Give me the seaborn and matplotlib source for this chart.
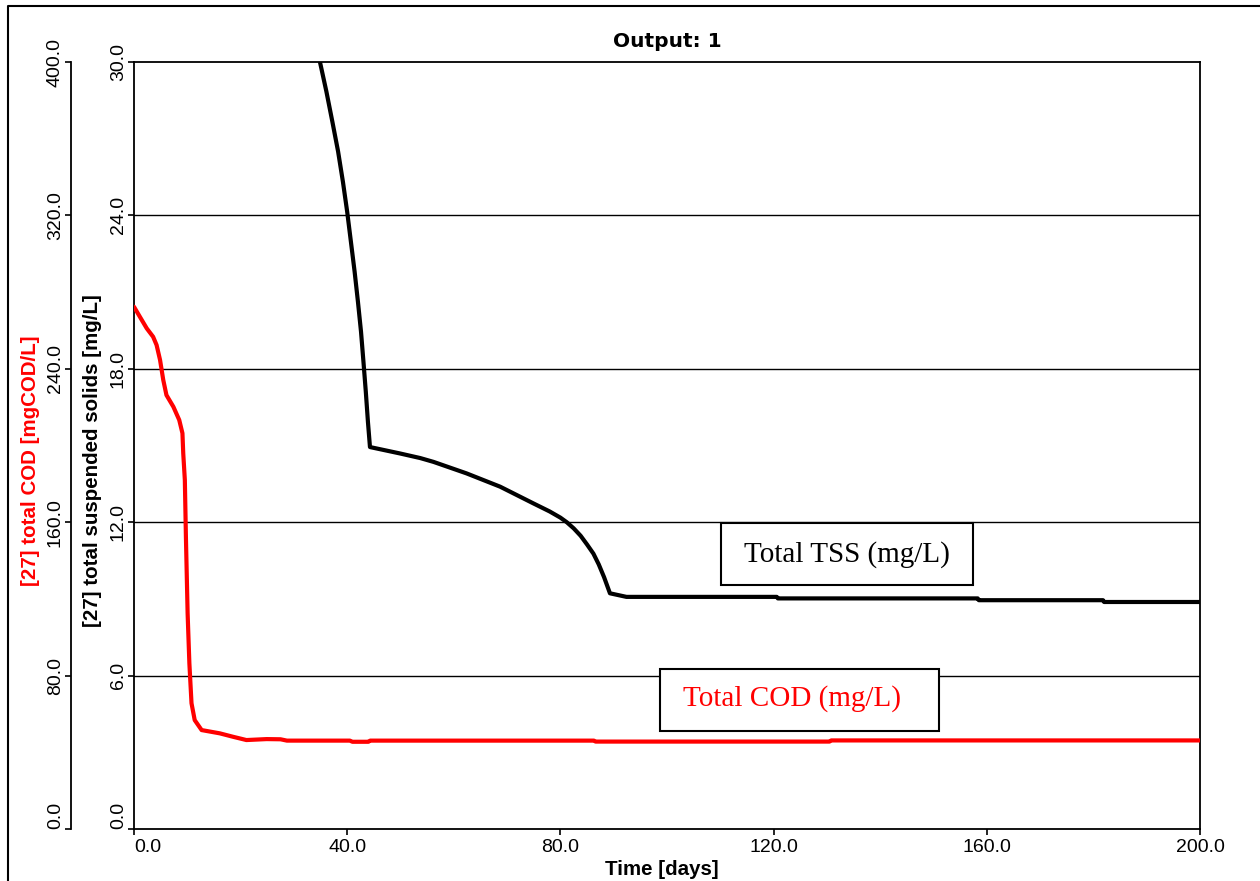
import matplotlib
matplotlib.use("Agg")
import matplotlib.pyplot as plt
import seaborn as sns
from matplotlib.lines import Line2D
from matplotlib.patches import Rectangle

# COD series (left outer axis, mgCOD/L)
cod_time = [0, 1.1, 2.4, 3.6, 4.25, 4.9, 5.5, 6.1, 7.4, 8.5, 9.1, 9.25, 9.55,
            9.75, 10.07, 10.4, 10.8, 11.4, 12.7, 16.1, 18.6, 21.1, 24.9, 27.5,
            28.7, 40.5, 41.0, 44.0, 44.3, 86.3, 86.6, 130.5, 130.8, 200]
cod_vals = [272.4, 267.2, 261.1, 256.7, 252.4, 244.6, 234.2, 226.3, 220.2,
            213.3, 206.4, 195.9, 182.0, 152.4, 112.5, 86.4, 65.6, 56.8, 51.6,
            49.9, 48.1, 46.4, 46.9, 46.8, 46.1, 46.1, 45.5, 45.5, 46.1, 46.1,
            45.6, 45.6, 46.2, 46.2]

# TSS series (inner axis, mg/L)
tss_time = [34.9, 36.1, 37.24, 38.3, 39.21, 40.0, 40.71, 41.4, 42.03, 42.6,
            43.06, 43.5, 43.90, 44.28, 49.9, 53.7, 56.2, 62.4, 68.7, 74.9,
            78.0, 80.0, 81.2, 82.5, 83.8, 85.0, 86.2, 87.2, 88.2, 89.3, 92.4,
            120.6, 120.8, 158.3, 158.5, 181.8, 182.0, 200]
tss_vals = [30.0, 28.85, 27.65, 26.5, 25.31, 24.15, 22.96, 21.8, 20.61, 19.45,
            18.27, 17.1, 15.92, 14.94, 14.69, 14.51, 14.36, 13.91, 13.39, 12.74,
            12.42, 12.18, 12.0, 11.76, 11.47, 11.13, 10.77, 10.35, 9.85, 9.22,
            9.08, 9.08, 9.02, 9.02, 8.95, 8.95, 8.88, 8.88]

x_ticks = [0, 40, 80, 120, 160, 200]
tss_ticks = [0, 6, 12, 18, 24, 30]
cod_ticks = [0, 80, 160, 240, 320, 400]

sns.set_style("white")
plt.rcParams["font.family"] = ["Liberation Sans", "DejaVu Sans"]
plt.rcParams["text.color"] = "black"
plt.rcParams["axes.labelcolor"] = "black"
plt.rcParams["xtick.color"] = "black"
plt.rcParams["ytick.color"] = "black"

label_font = dict(family=["Liberation Sans", "DejaVu Sans"],
                  weight="bold", size=14.8)

fig = plt.figure(figsize=(12.6, 8.81), dpi=100)
ax = fig.add_axes([0.1063, 0.0590, 0.8461, 0.8706])

# horizontal grid at TSS ticks
for v in tss_ticks[1:-1]:
    ax.axhline(v, color="black", lw=1.0, zorder=1)

sns.lineplot(x=tss_time, y=tss_vals, ax=ax, color="black", lw=3,
             estimator=None, sort=False, zorder=3)
ax.set_xlim(0, 200)
ax.set_ylim(0, 30)
ax.set_xticks(x_ticks)
ax.set_xticklabels([f"{v:.1f}" for v in x_ticks])
ax.set_yticks(tss_ticks)
ax.set_yticklabels([f"{v:.1f}" for v in tss_ticks])
ax.tick_params(axis="both", direction="out", length=4, width=1.2,
               labelsize=14, color="black", labelcolor="black",
               left=True, bottom=True)
ax.tick_params(axis="y", labelrotation=90, pad=1)
ax.tick_params(axis="x", pad=3)
for lab in ax.get_yticklabels():
    lab.set_va("center")
ax.get_yticklabels()[0].set_va("bottom")
ax.get_xticklabels()[0].set_ha("left")
for s in ax.spines.values():
    s.set_color("black")
    s.set_linewidth(1.3)

# outer COD axis on the left
ax2 = ax.twinx()
sns.lineplot(x=cod_time, y=cod_vals, ax=ax2, color="#ff0000", lw=3,
             estimator=None, sort=False, zorder=3)
ax2.set_ylim(0, 400)
ax2.yaxis.tick_left()
ax2.yaxis.set_label_position("left")
ax2.spines["left"].set_position(("axes", -0.0591))
ax2.spines["left"].set_visible(True)
ax2.spines["left"].set_color("black")
ax2.spines["left"].set_linewidth(1.3)
for side in ["right", "top", "bottom"]:
    ax2.spines[side].set_visible(False)
ax2.set_yticks(cod_ticks)
ax2.set_yticklabels([f"{v:.1f}" for v in cod_ticks])
ax2.tick_params(axis="y", direction="out", length=4, width=1.2, labelsize=14,
                labelrotation=90, pad=1, left=True, right=False,
                color="black", labelcolor="black")
for lab in ax2.get_yticklabels():
    lab.set_va("center")
ax2.get_yticklabels()[0].set_va("bottom")

# axis labels
ax.set_ylabel("[27] total suspended solids [mg/L]", color="black", **label_font)
ax.yaxis.set_label_coords(-0.0389, 0.48)
ax.yaxis.label.set_va("center")
ax2.set_ylabel("[27] total COD [mgCOD/L]", color="#ff0000", **label_font)
ax2.yaxis.set_label_coords(-0.0971, 0.48)
ax2.yaxis.label.set_va("center")
ax.set_xlabel("Time [days]", color="black", **label_font)
ax.xaxis.set_label_coords(0.495, -0.041)

ax.set_title("Output: 1", family="DejaVu Sans", weight="bold", size=14.5,
             pad=11, color="black")

# text boxes
box_specs = [
    ((0.5507, 0.318), 0.2363, 0.081, (0.669, 0.3585), "Total TSS (mg/L)", "black"),
    ((0.4934, 0.1278), 0.2618, 0.0808, (0.6173, 0.1695), "Total COD (mg/L)", "#ff0000"),
]
for (x0, y0), w, h, (tx, ty), txt, col in box_specs:
    ax.add_patch(Rectangle((x0, y0), w, h, transform=ax.transAxes,
                           facecolor="white", edgecolor="black", lw=1.5, zorder=4))
    ax.text(tx, ty, txt, transform=ax.transAxes, ha="center", va="center",
            family="Liberation Serif", size=21, color=col, zorder=5)

# outer frame
fig.add_artist(Line2D([0.00635, 0.00635, 1.0], [0.0, 0.9932, 0.9932],
                      transform=fig.transFigure, color="black", lw=1.5))

fig.savefig("out.png", dpi=100)
